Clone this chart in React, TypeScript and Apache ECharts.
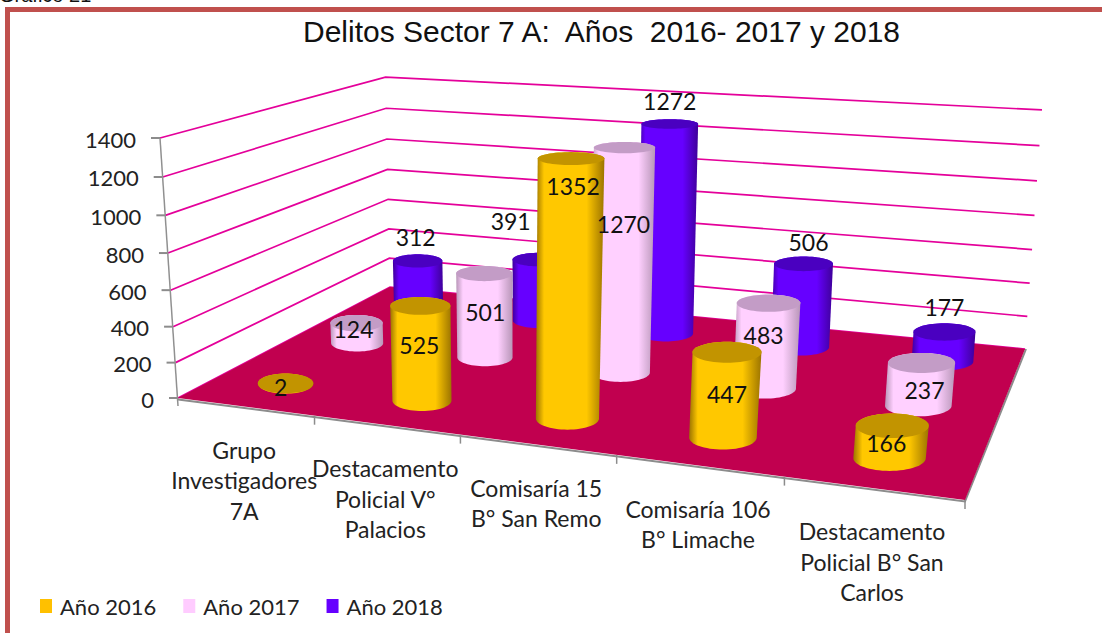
import React, { useEffect, useRef } from "react";
import * as echarts from "echarts";

const titleText = "Delitos Sector 7 A:  Años  2016- 2017 y 2018";
const captionText = "Gráfico 21";
const categories = [
  "Grupo\nInvestigadores\n7A",
  "Destacamento\nPolicial V°\nPalacios",
  "Comisaría 15\nB° San Remo",
  "Comisaría 106\nB° Limache",
  "Destacamento\nPolicial B° San\nCarlos",
];
const seriesNames = ["Año 2016", "Año 2017", "Año 2018"];
const values2016 = [2, 525, 1352, 447, 166];
const values2017 = [124, 501, 1270, 483, 237];
const values2018 = [312, 391, 1272, 506, 177];
const valueTicks = [0, 200, 400, 600, 800, 1000, 1200, 1400];

const allValues = [values2016, values2017, values2018];
const AXIS_MAX = 1400;

// ---- layout: the perspective of the 3-D box (not data) ----
const FLOOR = { fl: [178, 398], fr: [965, 500], br: [1025, 349], bl: [390, 287] };
const TOP_FL = [160, 138];
const TOP_BR = [1042, 110];
const TOP_BL_Y = 77;
const HIDDEN_GRID = { left: 100, top: 100, width: 500, height: 300 };
const ROW_DEPTH = [1 / 6, 1 / 2, 5 / 6];
const RADIUS_U = 0.21;
const RADIUS_W = 0.075;
// label offsets from the top centre of each cylinder, in pixels
const labelNudge = [
  [[-5, 4], [-1, 39], [2, 27], [0, 42], [-6, 17]],
  [[-3, 6], [1, 38], [-1, 76], [-5, 32], [3, 27]],
  [[-2, -24], [-28, -39], [0, -23], [5, -22], [0, -25]],
];
const SKIN = [
  { mid: "#FFC800", edge: "#9C7400", top: "#C29400" },
  { mid: "#FFD0FF", edge: "#B896B8", top: "#C39CC6" },
  { mid: "#6600FF", edge: "#3E0099", top: "#4A00C0" },
];
const LEGEND_COLORS = ["#FFC000", "#FFCCFF", "#6600FF"];
const LATO = "Lato, 'Noto Sans', sans-serif";

function makeProjector() {
  const [x0, y0] = FLOOR.fl;
  const [x1, y1] = FLOOR.fr;
  const [x2, y2] = FLOOR.br;
  const [x3, y3] = FLOOR.bl;
  const dx1 = x1 - x2, dx2 = x3 - x2, sx = x0 - x1 + x2 - x3;
  const dy1 = y1 - y2, dy2 = y3 - y2, sy = y0 - y1 + y2 - y3;
  const det = dx1 * dy2 - dx2 * dy1;
  const g = (sx * dy2 - dx2 * sy) / det;
  const h = (dx1 * sy - sx * dy1) / det;
  const a = x1 - x0 + g * x1, b = x3 - x0 + h * x3, c = x0;
  const d = y1 - y0 + g * y1, e = y3 - y0 + h * y3, f = y0;
  const Ty = TOP_FL[1], Tx = TOP_FL[0];
  const jB = (TOP_BL_Y * (1 + h) - e - Ty) / (Ty - TOP_BL_Y);
  const jC = (TOP_BR[1] * (1 + g + h) - d - e - Ty) / (Ty - TOP_BR[1]);
  const j = (jB + jC) / 2;
  const kx = Tx * (1 + j) - c;
  const ky = Ty * (1 + j) - f;
  // extra shear so the right-hand wall edge leans as little as it does in the picture
  const kxs = TOP_BR[0] * (1 + g + h + j) - (a + b + c + kx);
  return (s: number, t: number, v: number) => {
    const w = g * s + h * t + 1 + j * v;
    return [(a * s + b * t + c + (kx + kxs * s * t) * v) / w, (d * s + e * t + f + ky * v) / w];
  };
}
const project = makeProjector();

function hull(points: number[][]) {
  const p = [...points].sort((m, n) => m[0] - n[0] || m[1] - n[1]);
  const cross = (o: number[], m: number[], n: number[]) =>
    (m[0] - o[0]) * (n[1] - o[1]) - (m[1] - o[1]) * (n[0] - o[0]);
  const lo: number[][] = [];
  for (const q of p) {
    while (lo.length > 1 && cross(lo[lo.length - 2], lo[lo.length - 1], q) <= 0) lo.pop();
    lo.push(q);
  }
  const up: number[][] = [];
  for (let i = p.length - 1; i >= 0; i--) {
    const q = p[i];
    while (up.length > 1 && cross(up[up.length - 2], up[up.length - 1], q) <= 0) up.pop();
    up.push(q);
  }
  return lo.slice(0, -1).concat(up.slice(0, -1));
}

// reads the category / value through ECharts' hidden axes and returns box coordinates
function toBox(api: any, cat: number, val: number) {
  const [px, py] = api.coord([cat, val]);
  const s = (px - HIDDEN_GRID.left) / HIDDEN_GRID.width;
  const v = (HIDDEN_GRID.top + HIDDEN_GRID.height - py) / HIDDEN_GRID.height;
  return { s, v };
}

function ring(s: number, t: number, v: number) {
  const ru = RADIUS_U / categories.length;
  const [cx, cy] = project(s, t, v);
  const hw = Math.abs(project(s + ru, t, v)[0] - project(s - ru, t, v)[0]) / 2;
  const hh = Math.abs(project(s, t + RADIUS_W, v)[1] - project(s, t - RADIUS_W, v)[1]) / 2;
  const pts: number[][] = [];
  for (let i = 0; i < 64; i++) {
    const a = (i / 64) * Math.PI * 2;
    pts.push([cx + hw * Math.cos(a), cy + hh * Math.sin(a)]);
  }
  return pts;
}

function cylinderSeries(si: number) {
  const skin = SKIN[si];
  return {
    type: "custom",
    name: seriesNames[si],
    coordinateSystem: "cartesian2d",
    silent: true,
    z: 6 - si,
    itemStyle: { color: LEGEND_COLORS[si] },
    encode: { x: 0, y: 1 },
    data: allValues[si].map((val, i) => [i, val]),
    renderItem: (_p: any, api: any) => {
      const { s, v } = toBox(api, api.value(0), api.value(1));
      const t = ROW_DEPTH[si];
      const bottom = ring(s, t, 0);
      const top = ring(s, t, v);
      const fill = new echarts.graphic.LinearGradient(0, 0, 1, 0, [
        { offset: 0, color: skin.edge },
        { offset: 0.12, color: skin.mid },
        { offset: 0.74, color: skin.mid },
        { offset: 1, color: skin.edge },
      ]);
      return {
        type: "group",
        children: [
          { type: "polygon", shape: { points: hull(bottom.concat(top)) }, style: { fill } },
          { type: "polygon", shape: { points: top }, style: { fill: skin.top } },
        ],
      };
    },
  };
}

function labelSeries(si: number) {
  return {
    type: "custom",
    coordinateSystem: "cartesian2d",
    silent: true,
    z: 20,
    encode: { x: 0, y: 1 },
    data: allValues[si].map((val, i) => [i, val]),
    renderItem: (_p: any, api: any) => {
      const cat = api.value(0);
      const { s, v } = toBox(api, cat, api.value(1));
      const [x, y] = project(s, ROW_DEPTH[si], v);
      const [dx, dy] = labelNudge[si][cat];
      return {
        type: "text",
        x: x + dx,
        y: y + dy,
        style: {
          text: String(api.value(1)),
          fontFamily: LATO,
          fontSize: 23,
          fill: "#111",
          align: "center",
          verticalAlign: "middle",
        },
      };
    },
  };
}

const wallSeries = {
  type: "custom",
  coordinateSystem: "cartesian2d",
  silent: true,
  z: 1,
  encode: { x: 0, y: 1 },
  data: valueTicks.map((t) => [0, t]),
  renderItem: (_p: any, api: any) => {
    const { v } = toBox(api, 0, api.value(1));
    const front = project(0, 0, v);
    const children: any[] = [
      {
        type: "polyline",
        shape: { points: [front, project(0, 1, v), project(1, 1, v)] },
        style: { stroke: "#E4009A", fill: "none", lineWidth: 1.7 },
      },
      {
        type: "line",
        shape: { x1: front[0] - 9, y1: front[1], x2: front[0], y2: front[1] },
        style: { stroke: "#8C8C8C", lineWidth: 2 },
      },
      {
        type: "text",
        x: front[0] - 24,
        y: front[1] + 1,
        style: {
          text: String(api.value(1)),
          fontFamily: LATO,
          fontSize: 22,
          fill: "#222",
          align: "right",
          verticalAlign: "middle",
        },
      },
    ];
    return { type: "group", children };
  },
};

const floorSeries = {
  type: "custom",
  coordinateSystem: "cartesian2d",
  silent: true,
  z: 2,
  encode: { x: 0, y: 1 },
  data: [[0, 0]],
  renderItem: () => {
    const quad = [project(0, 0, 0), project(1, 0, 0), project(1, 1, 0), project(0, 1, 0)];
    const leftAxisTop = project(0, 0, 1);
    return {
      type: "group",
      children: [
        {
          type: "line",
          shape: { x1: leftAxisTop[0], y1: leftAxisTop[1], x2: quad[0][0], y2: quad[0][1] + 8 },
          style: { stroke: "#909090", lineWidth: 1.5 },
        },
        {
          type: "polyline",
          shape: { points: [[quad[0][0], quad[0][1] + 1.5], [quad[1][0], quad[1][1] + 1.5], [quad[2][0] + 1, quad[2][1]]] },
          style: { stroke: "#8C8C8C", fill: "none", lineWidth: 2 },
        },
        { type: "polygon", shape: { points: quad }, style: { fill: "#C1004F" } },
      ],
    };
  },
};

const categorySeries = {
  type: "custom",
  coordinateSystem: "cartesian2d",
  silent: true,
  z: 3,
  encode: { x: 0, y: 1 },
  data: categories.map((_c, i) => [i, 0]),
  renderItem: (_p: any, api: any) => {
    const cat = api.value(0);
    const { s } = toBox(api, cat, 0);
    const [x, y] = project(s, 0, 0);
    const halfStep = 0.5 / categories.length;
    const tick = project(s + halfStep, 0, 0);
    const children: any[] = [
      {
        type: "text",
        x: x - 1,
        y: y + 28,
        style: {
          text: categories[cat],
          fontFamily: LATO,
          fontSize: 23,
          lineHeight: 30.5,
          fill: "#222",
          align: "center",
          verticalAlign: "top",
        },
      },
      {
        type: "line",
        shape: { x1: tick[0], y1: tick[1], x2: tick[0], y2: tick[1] + 9 },
        style: { stroke: "#8C8C8C", lineWidth: 1.5 },
      },
    ];
    return { type: "group", children };
  },
};

export default function App() {
  const ref = useRef<HTMLDivElement>(null);
  useEffect(() => {
    const chart = echarts.init(ref.current!, null, { renderer: "svg" });
    chart.setOption({
      animation: false,
      backgroundColor: "#fff",
      title: {
        text: titleText,
        left: 298,
        top: 11,
        textStyle: {
          fontFamily: "'Liberation Sans', Arial, sans-serif",
          fontWeight: "normal",
          fontSize: 30,
          color: "#111",
        },
      },
      legend: {
        data: seriesNames,
        left: 35,
        top: 590,
        icon: "rect",
        itemWidth: 12,
        itemHeight: 14,
        itemGap: 27,
        textStyle: { fontFamily: LATO, fontSize: 22, color: "#222", padding: [0, 0, 0, 3] },
      },
      grid: { ...HIDDEN_GRID, containLabel: false },
      xAxis: { type: "category", data: categories, show: false },
      yAxis: { type: "value", min: 0, max: AXIS_MAX, show: false },
      series: [
        wallSeries,
        floorSeries,
        categorySeries,
        cylinderSeries(2),
        cylinderSeries(1),
        cylinderSeries(0),
        labelSeries(0),
        labelSeries(1),
        labelSeries(2),
      ],
      graphic: [
        {
          type: "text",
          x: -1,
          y: -15,
          style: { text: captionText, fontFamily: "'Liberation Sans', Arial", fontSize: 20, fill: "#111" },
        },
        {
          type: "rect",
          shape: { x: 7.5, y: 9.5, width: 1300, height: 800 },
          style: { fill: "none", stroke: "#C0504D", lineWidth: 5 },
        },
      ],
    });
    return () => chart.dispose();
  }, []);
  return (
    <div
      ref={ref}
      style={{ position: "fixed", left: 0, top: 0, width: 1102, height: 633 }}
    />
  );
}
